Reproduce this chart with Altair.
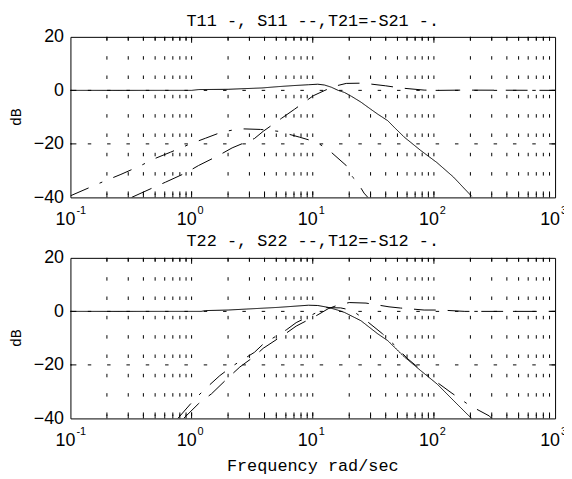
import altair as alt
import pandas as pd

# ---------------- data ----------------
# top panel
T11_F = [0.1, 1.0, 1.15, 2.0, 3.8, 5.2, 7.0, 9.2, 11.0, 12.5, 14.2, 16.2, 18.3, 21.0, 25.0, 30.0, 34.4, 41.5, 48.0, 57.0, 78.0, 106.0, 145.0, 205.0]
T11_DB = [0.0, 0.0, 0.3, 0.4, 0.9, 1.4, 1.8, 2.1, 2.3, 2.0, 1.2, 0.0, -0.8, -2.3, -4.4, -7.0, -8.9, -11.3, -14.2, -17.5, -22.5, -27.0, -32.4, -39.6]

S11_F = [0.32, 0.49, 0.61, 0.89, 1.14, 1.66, 2.16, 3.3, 3.9, 5.5, 7.1, 10.1, 12.6, 15.0, 18.9, 26.0, 40.0, 53.0, 83.0, 110.0, 175.0, 1000.0]
S11_DB = [-40.0, -36.2, -34.3, -30.9, -28.1, -24.4, -21.5, -18.0, -15.3, -10.5, -7.0, -2.0, 0.0, 1.5, 2.6, 2.7, 1.7, 0.9, 0.1, 0.0, 0.1, 0.0]

T21_F = [0.1, 0.149, 0.191, 0.261, 0.381, 0.49, 0.67, 0.977, 1.3, 1.77, 2.2, 2.7, 3.7, 5.2, 7.8, 10.1, 10.8, 13.7, 18.9, 21.3, 22.9, 26.5, 28.5]
T21_DB = [-39.4, -36.0, -33.9, -31.4, -28.1, -25.6, -23.1, -20.0, -17.9, -15.6, -14.8, -14.4, -14.6, -15.3, -17.5, -19.0, -19.4, -22.5, -28.1, -32.4, -33.7, -38.4, -40.0]

# bottom panel
T22_F = [0.1, 1.2, 1.3, 2.0, 5.2, 9.2, 11.0, 13.4, 16.0, 18.3, 25.0, 34.4, 41.5, 57.0, 77.6, 106.0, 145.0, 193.0, 205.0]
T22_DB = [0.0, 0.0, 0.3, 0.5, 1.5, 2.3, 2.2, 1.5, 0.5, -0.4, -3.5, -8.4, -10.9, -17.0, -22.1, -27.1, -33.3, -38.9, -40.0]

S22_F = [0.86, 1.14, 1.46, 1.96, 2.5, 3.3, 3.9, 6.1, 7.3, 10.8, 12.0, 13.4, 16.0, 20.0, 27.5, 42.6, 53.0, 83.0, 113.0, 180.0, 1000.0]
S22_DB = [-40.0, -34.5, -30.8, -25.2, -20.8, -16.8, -13.8, -8.0, -5.5, -1.5, -0.3, 1.0, 2.3, 3.3, 3.1, 1.7, 1.25, 0.5, 0.5, 0.0, 0.0]

T12_F = [0.77, 1.01, 1.25, 1.71, 2.2, 3.3, 3.9, 6.1, 7.3, 10.8, 13.0, 17.0, 21.0, 26.5, 37.7, 47.0, 60.0, 84.0, 106.0, 141.0, 198.0, 287.0, 300.0]
T12_DB = [-40.0, -33.9, -29.6, -24.0, -20.3, -15.3, -12.2, -6.8, -4.2, -0.4, 1.4, 1.3, 0.4, -2.8, -8.4, -12.5, -17.5, -23.0, -26.5, -30.6, -35.2, -39.1, -40.0]

TITLE_TOP = "T11 -, S11 --,T21=-S21 -."
TITLE_BOT = "T22 -, S22 --,T12=-S12 -."
X_TITLE = "Frequency rad/sec"
Y_TITLE = "dB"

DECADES = [0.1, 1, 10, 100, 1000]
EXPONENTS = ["-1", "0", "1", "2", "3"]
Y_TICKS = [-40, -20, 0, 20]
Y_GRID = [-20, 0]
MAJOR_F = [1, 10, 100]
MINOR_F = [m * 10.0 ** e for e in range(-1, 3) for m in range(2, 10)]

# ---------------- layout / style ----------------
W, H = 489, 162
MONO = "Liberation Mono"
SANS = "Liberation Sans"
XS = alt.Scale(type="log", domain=[0.1, 1000], nice=False)
YS = alt.Scale(domain=[-40, 20], nice=False, zero=False)
DASH_GRID = [3.5, 16]
NAMES = ["solid", "dashed", "dashdot"]
DASHES = [[1, 0], [22, 12], [20, 12, 3, 12]]

XAXIS = alt.Axis(labels=False, ticks=False, domain=False, grid=False, title=None)
YAXIS = alt.Axis(values=Y_TICKS, ticks=False, domain=False, grid=False,
                 labelFont=SANS, labelFontSize=18, labelColor="black", labelPadding=7,
                 title=None)


def X(field):
    return alt.X(field, scale=XS, axis=XAXIS)


def Y(field):
    return alt.Y(field, scale=YS, axis=YAXIS)


def panel(title, series, show_xtitle, title_dy):
    rows = []
    for name, fs, ds in series:
        for a, b in zip(fs, ds):
            rows.append({"series": name, "f": a, "dB": b})
    df = pd.DataFrame(rows)

    lines = alt.Chart(df).mark_line(color="black", strokeWidth=1, clip=True).encode(
        x=X("f:Q"),
        y=Y("dB:Q"),
        strokeDash=alt.StrokeDash("series:N", scale=alt.Scale(domain=NAMES, range=DASHES), legend=None),
    )

    vgrid = alt.Chart(pd.DataFrame({"f": MINOR_F + MAJOR_F})).mark_rule(
        color="black", strokeWidth=1, strokeDash=DASH_GRID
    ).encode(x=X("f:Q"))

    hgrid = alt.Chart(pd.DataFrame({"v": Y_GRID})).mark_rule(
        color="black", strokeWidth=1, strokeDash=DASH_GRID
    ).encode(y=Y("v:Q"))

    def xticks(vals, length):
        d = pd.DataFrame({"f": vals})
        top = alt.Chart(d).mark_rule(color="black", strokeWidth=1).encode(
            x=X("f:Q"), y=alt.value(0), y2=alt.value(length))
        bot = alt.Chart(d).mark_rule(color="black", strokeWidth=1).encode(
            x=X("f:Q"), y=alt.value(H - length), y2=alt.value(H))
        return [top, bot]

    yd = pd.DataFrame({"v": Y_GRID})
    ytl = alt.Chart(yd).mark_rule(color="black", strokeWidth=1).encode(
        y=Y("v:Q"), x=alt.value(0), x2=alt.value(6))
    ytr = alt.Chart(yd).mark_rule(color="black", strokeWidth=1).encode(
        y=Y("v:Q"), x=alt.value(W - 6), x2=alt.value(W))

    lab = pd.DataFrame({"f": DECADES, "e": EXPONENTS})
    base_lab = alt.Chart(lab).mark_text(
        font=SANS, fontSize=18, align="right", baseline="alphabetic", dx=5, color="black"
    ).encode(x=X("f:Q"), y=alt.value(H + 28), text=alt.value("10"))
    exp_lab = alt.Chart(lab).mark_text(
        font=SANS, fontSize=11, align="left", baseline="alphabetic", dx=6, color="black"
    ).encode(x=X("f:Q"), y=alt.value(H + 17), text="e:N")

    ttl = alt.Chart(pd.DataFrame({"t": [title]})).mark_text(
        font=MONO, fontSize=17, align="center", baseline="alphabetic", color="black"
    ).encode(x=alt.value(W / 2), y=alt.value(title_dy), text="t:N")

    ylab = alt.Chart(pd.DataFrame({"t": [Y_TITLE]})).mark_text(
        font=MONO, fontSize=15, align="center", baseline="middle", angle=270, color="black"
    ).encode(x=alt.value(-55), y=alt.value(H / 2), text="t:N")

    layers = [vgrid, hgrid] + xticks(MAJOR_F, 6) + xticks(MINOR_F, 4) + [ytl, ytr, lines, base_lab, exp_lab, ttl, ylab]
    if show_xtitle:
        xt = alt.Chart(pd.DataFrame({"t": [X_TITLE]})).mark_text(
            font=MONO, fontSize=17, align="center", baseline="alphabetic", color="black"
        ).encode(x=alt.value(W / 2), y=alt.value(H + 53), text="t:N")
        layers.append(xt)
    return alt.layer(*layers).properties(width=W, height=H)


top = panel(TITLE_TOP, [("solid", T11_F, T11_DB), ("dashed", S11_F, S11_DB), ("dashdot", T21_F, T21_DB)], False, -11)
bot = panel(TITLE_BOT, [("solid", T22_F, T22_DB), ("dashed", S22_F, S22_DB), ("dashdot", T12_F, T12_DB)], True, -12)

chart = alt.vconcat(top, bot, spacing=61, bounds="flush").properties(
    padding={"left": 0, "top": 1, "right": -4, "bottom": 0},
    background="white",
).configure_view(stroke="black", strokeWidth=1)

chart.save("out.html", embed_options={"renderer": "svg", "actions": False})
